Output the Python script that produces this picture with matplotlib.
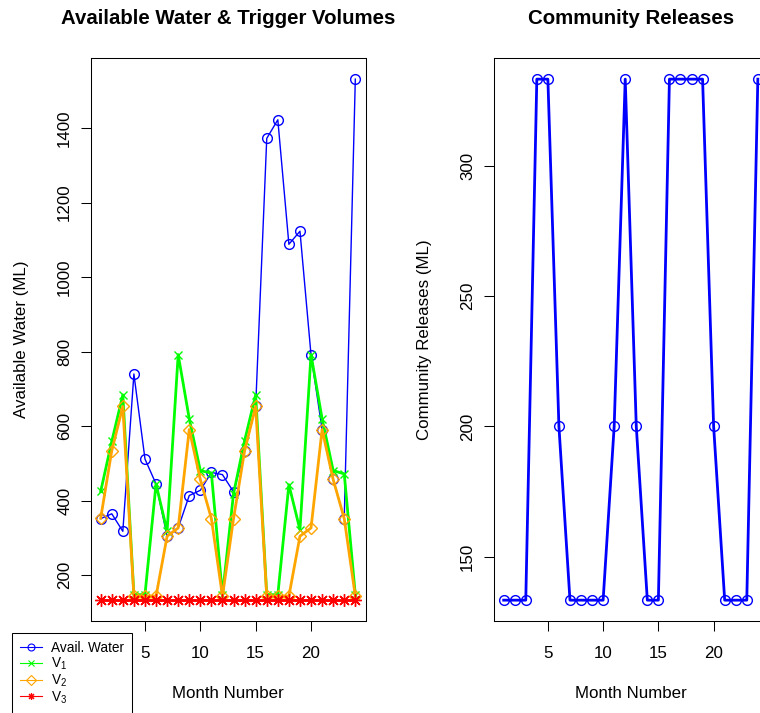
import matplotlib
matplotlib.use("Agg")
import matplotlib.pyplot as plt
from matplotlib.lines import Line2D

plt.rcParams['font.family'] = ['Liberation Sans', 'DejaVu Sans']
plt.rcParams['mathtext.default'] = 'regular'

# monthly series
months = list(range(1, 25))
avail_water = [352, 365, 318, 740, 512, 445, 305, 327, 414, 428, 476, 470,
               424, 533, 653, 1372, 1422, 1088, 1123, 791, 591, 457, 352, 1531]
v1 = [425, 559, 684, 148, 148, 445, 318, 792, 620, 481, 474, 147,
      419, 561, 684, 148, 148, 443, 322, 792, 620, 481, 472, 148]
v2 = [353, 534, 653, 144, 144, 144, 305, 327, 591, 457, 352, 144,
      352, 534, 653, 144, 144, 144, 305, 327, 591, 457, 352, 144]
v3 = [133.3, 133.3, 133.3, 133.3, 133.3, 133.3, 133.3, 133.3, 133.3, 133.3, 133.3, 133.3,
      133.3, 133.3, 133.3, 133.3, 133.3, 133.3, 133.3, 133.3, 133.3, 133.3, 133.3, 133.3]
releases = [133.3, 133.3, 133.3, 333.3, 333.3, 200, 133.3, 133.3, 133.3, 133.3, 200, 333.3,
            200, 133.3, 133.3, 333.3, 333.3, 333.3, 333.3, 200, 133.3, 133.3, 133.3, 333.3]

series_labels = ['Avail. Water', '$V_1$', '$V_2$', '$V_3$']
series_colors = ['blue', '#00FF00', 'orange', 'red']
series_markers = ['o', 'x', 'D', (8, 2, 0)]

x_ticks = [5, 10, 15, 20]
water_ticks = [200, 400, 600, 800, 1000, 1200, 1400]
release_ticks = [150, 200, 250, 300]

W, H = 760, 713
fig = plt.figure(figsize=(W / 100, H / 100), dpi=100)

def px_axes(left, top, right, bottom):
    return fig.add_axes([left / W, 1 - bottom / H, (right - left) / W, (bottom - top) / H])

ax1 = px_axes(90.5, 58.3, 365.5, 621)
ax2 = px_axes(493.5, 58.3, 768, 621)   # runs past the right edge, as in the reference

ax1.plot(months, avail_water, color=series_colors[0], lw=1.0, marker='o', ms=7, mfc='none', mew=1.0)
ax1.plot(months, v1, color=series_colors[1], lw=2.0, marker='x', ms=6, mew=1.0)
ax1.plot(months, v2, color=series_colors[2], lw=2.0, marker='D', ms=6.5, mfc='none', mew=1.0)
ax1.plot(months, v3, color=series_colors[3], lw=2.0, marker=(8, 2, 0), ms=9, mew=1.0)

ax2.plot(months, releases, color='blue', lw=2.0, marker='o', ms=7, mfc='none', mew=1.0)

for ax, yt, title, ylab in [(ax1, water_ticks, 'Available Water & Trigger Volumes', 'Available Water (ML)'),
                            (ax2, release_ticks, 'Community Releases', 'Community Releases (ML)')]:
    ax.margins(x=0.04, y=0.04)
    ax.set_xticks(x_ticks)
    ax.set_yticks(yt, [str(t) for t in yt], rotation=90, va='center')
    ax.tick_params(length=7.2, width=0.75, labelsize=12.2, pad=10.5, direction='out')
    ax.tick_params(axis='y', pad=6)
    for s in ax.spines.values():
        s.set_linewidth(0.75)
    ax.set_title(title, fontsize=14.7, fontweight='bold', pad=25)
    ax.set_xlabel('Month Number', fontsize=12.2, va='center')
    ax.xaxis.set_label_coords(0.5, -0.129)
    ax.set_ylabel(ylab, fontsize=12.2, va='center')
    ax.yaxis.set_label_coords(-0.252, 0.5)

# legend keys are drawn thin, like R's legend(); the box runs off the bottom edge
handles = [Line2D([], [], color=c, lw=0.8, marker=m, ms=5, mfc='none', mew=0.8)
           for c, m in zip(series_colors, series_markers)]
leg = fig.legend(handles=handles, labels=series_labels, loc='upper left',
                 bbox_to_anchor=(11.7 / W, 1 - 633 / H), borderaxespad=0,
                 fontsize=9.8, handlelength=1.6, handletextpad=0.7, labelspacing=0.03,
                 borderpad=0.6, fancybox=False, framealpha=1, edgecolor='black')
leg.get_frame().set_linewidth(0.75)

fig.savefig('out.png', dpi=100)
